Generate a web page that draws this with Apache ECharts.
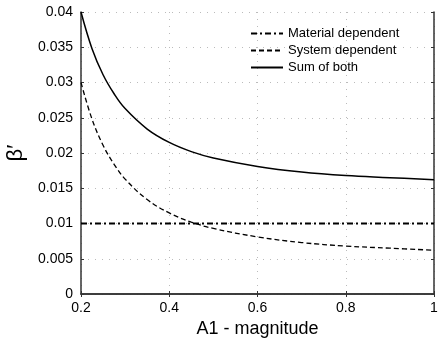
<!DOCTYPE html>
<html>
<head>
<meta charset="UTF-8">
<title>beta prime vs A1 magnitude</title>
<script src="https://cdn.jsdelivr.net/npm/echarts@6/dist/echarts.min.js"></script>
<style>
  html, body { margin: 0; padding: 0; background: #fff; }
  #chart { width: 438px; height: 339px; }
</style>
</head>
<body>
<div id="chart"></div>
<script>
// values
var xs = [0.2, 0.225, 0.25, 0.275, 0.3, 0.35, 0.4, 0.45, 0.5, 0.6, 0.7, 0.8, 0.9, 1.0];
var material = [0.01, 0.01, 0.01, 0.01, 0.01, 0.01, 0.01, 0.01, 0.01, 0.01, 0.01, 0.01, 0.01, 0.01];
var system = [0.0300, 0.0248, 0.0211, 0.0184, 0.0163, 0.0134, 0.0115, 0.0102, 0.0093, 0.0081, 0.0073, 0.0068, 0.0065, 0.0062];
var total = [0.0400, 0.0348, 0.0311, 0.0284, 0.0263, 0.0234, 0.0215, 0.0202, 0.0193, 0.0181, 0.0173, 0.0168, 0.0165, 0.0162];
var xTicks = [0.2, 0.4, 0.6, 0.8, 1];
var yTicks = [0, 0.005, 0.01, 0.015, 0.02, 0.025, 0.03, 0.035, 0.04];

function pairs(ys) {
  return xs.map(function (x, i) { return [x, ys[i]]; });
}

var font = 'Liberation Sans, Arial, sans-serif';
var axisCol = '#333';

var chart = echarts.init(document.getElementById('chart'));
chart.setOption({
  animation: false,
  grid: { left: 81, right: 4, top: 12, bottom: 45, containLabel: false, outerBoundsMode: 'none' },
  legend: {
    orient: 'vertical',
    left: 245,
    top: 22,
    itemWidth: 32,
    itemHeight: 10,
    itemGap: 4,
    itemStyle: { opacity: 0 },
    textStyle: { fontFamily: font, fontSize: 13, color: '#000' },
    data: ['Material dependent', 'System dependent', 'Sum of both']
  },
  xAxis: [{
    type: 'value',
    min: 0.2, max: 1, interval: 0.2,
    name: 'A1 - magnitude',
    nameLocation: 'middle',
    nameGap: 23,
    nameTextStyle: { fontFamily: font, fontSize: 18, color: '#000' },
    axisLine: { lineStyle: { color: axisCol, width: 1.5 } },
    axisTick: { inside: true, length: 3, lineStyle: { color: axisCol } },
    axisLabel: { fontFamily: font, fontSize: 14, color: '#000', margin: 7,
      formatter: function (v) { return String(Math.round(v * 10) / 10); } },
    splitLine: { show: true, lineStyle: { color: '#bbb', type: [1, 6] } }
  }, {
    type: 'value', position: 'top',
    min: 0.2, max: 1, interval: 0.2,
    axisLine: { show: true, lineStyle: { color: axisCol, width: 1.5 } },
    axisTick: { inside: true, length: 3, lineStyle: { color: axisCol } },
    axisLabel: { show: false },
    splitLine: { show: false }
  }],
  yAxis: [{
    type: 'value',
    min: 0, max: 0.04, interval: 0.005,
    name: 'β′',
    nameLocation: 'middle',
    nameGap: 52,
    nameRotate: 90,
    nameTextStyle: { fontFamily: font, fontSize: 22, color: '#000' },
    axisLine: { show: true, lineStyle: { color: axisCol, width: 1.5 } },
    axisTick: { show: true, inside: true, length: 3, lineStyle: { color: axisCol } },
    axisLabel: { fontFamily: font, fontSize: 14, color: '#000', margin: 8,
      formatter: function (v) { return String(Math.round(v * 1000) / 1000); } },
    splitLine: { show: true, lineStyle: { color: '#bbb', type: [1, 6] } }
  }, {
    type: 'value', position: 'right',
    min: 0, max: 0.04, interval: 0.005,
    axisLine: { show: true, lineStyle: { color: axisCol, width: 1.5 } },
    axisTick: { show: true, inside: true, length: 3, lineStyle: { color: axisCol } },
    axisLabel: { show: false },
    splitLine: { show: false }
  }],
  series: [{
    name: 'Material dependent',
    type: 'line',
    data: pairs(material),
    symbol: 'none',
    lineStyle: { color: '#000', width: 1.8, type: [6, 3, 2, 3] },
    itemStyle: { color: '#000' }
  }, {
    name: 'System dependent',
    type: 'line',
    smooth: 0.4,
    data: pairs(system),
    symbol: 'none',
    lineStyle: { color: '#000', width: 1.3, type: [5, 3] },
    itemStyle: { color: '#000' }
  }, {
    name: 'Sum of both',
    type: 'line',
    smooth: 0.4,
    data: pairs(total),
    symbol: 'none',
    lineStyle: { color: '#000', width: 1.5 },
    itemStyle: { color: '#000' }
  }]
});
</script>
</body>
</html>
